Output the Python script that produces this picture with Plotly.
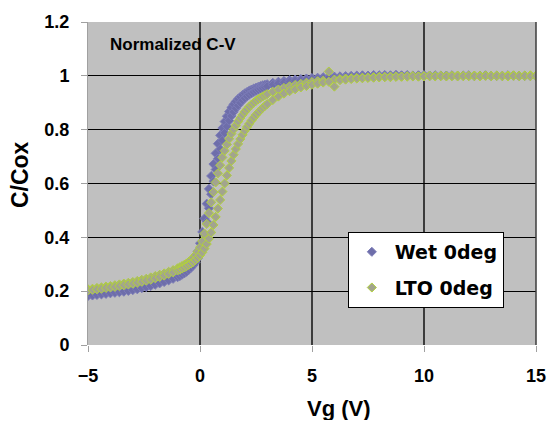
import plotly.graph_objects as go

# gate voltage sweep points (V)
vg = [
    -5.0, -4.8, -4.6, -4.4, -4.2, -4.0, -3.8, -3.6, -3.4, -3.2, -3.0,
    -2.8, -2.6, -2.4, -2.2, -2.0, -1.8, -1.6, -1.4, -1.2, -1.0,
    -0.9, -0.8, -0.7, -0.6, -0.5, -0.4, -0.3, -0.2, -0.1, 0.0,
    0.1, 0.2, 0.3, 0.4, 0.5, 0.6, 0.7, 0.8, 0.9, 1.0,
    1.1, 1.2, 1.3, 1.4, 1.5, 1.6, 1.7, 1.8, 1.9, 2.0,
    2.1, 2.2, 2.3, 2.4, 2.5, 2.6, 2.7, 2.8, 2.9, 3.0,
    3.25, 3.5, 3.75, 4.0, 4.25, 4.5, 4.75, 5.0,
    5.25, 5.5, 5.75, 6.0, 6.25, 6.5, 6.75, 7.0,
    7.25, 7.5, 7.75, 8.0, 8.25, 8.5, 8.75, 9.0,
    9.25, 9.5, 9.75, 10.0, 10.25, 10.5, 10.75, 11.0,
    11.25, 11.5, 11.75, 12.0, 12.25, 12.5, 12.75, 13.0,
    13.25, 13.5, 13.75, 14.0, 14.25, 14.5, 14.75, 15.0,
]

wet_sweep1 = [
    0.186, 0.188, 0.190, 0.192, 0.194, 0.196, 0.198, 0.200, 0.203, 0.206, 0.209,
    0.213, 0.217, 0.221, 0.226, 0.231, 0.236, 0.242, 0.248, 0.254, 0.261,
    0.266, 0.271, 0.277, 0.284, 0.292, 0.301, 0.312, 0.327, 0.348, 0.378,
    0.420, 0.470, 0.525, 0.580, 0.628, 0.672, 0.712, 0.748, 0.779, 0.806,
    0.830, 0.850, 0.867, 0.882, 0.894, 0.905, 0.914, 0.922, 0.929, 0.935,
    0.940, 0.945, 0.949, 0.953, 0.956, 0.959, 0.962, 0.965, 0.967, 0.969,
    0.974, 0.978, 0.981, 0.984, 0.986, 0.988, 0.990, 0.992,
    0.993, 0.995, 0.996, 0.997, 0.998, 0.999, 1.000, 1.001,
    1.002, 1.001, 1.003, 1.002, 1.003, 1.002, 1.004, 1.002,
    1.003, 1.001, 1.002, 1.003, 1.001, 1.002, 1.000, 1.001,
    1.002, 1.000, 1.001, 1.002, 1.000, 1.001, 1.002, 1.000,
    1.001, 1.000, 1.002, 1.001, 1.000, 1.001, 1.000, 1.001,
]
wet_sweep2 = [
    0.182, 0.184, 0.186, 0.188, 0.190, 0.192, 0.194, 0.196, 0.198, 0.201, 0.204,
    0.207, 0.211, 0.215, 0.219, 0.224, 0.229, 0.234, 0.240, 0.246, 0.252,
    0.256, 0.261, 0.266, 0.272, 0.279, 0.287, 0.296, 0.307, 0.322, 0.343,
    0.373, 0.412, 0.458, 0.508, 0.560, 0.608, 0.652, 0.692, 0.728, 0.760,
    0.788, 0.812, 0.833, 0.851, 0.866, 0.879, 0.890, 0.900, 0.909, 0.917,
    0.924, 0.930, 0.935, 0.940, 0.944, 0.948, 0.952, 0.955, 0.958, 0.961,
    0.967, 0.972, 0.976, 0.979, 0.982, 0.985, 0.987, 0.989,
    0.990, 0.992, 0.993, 0.994, 0.995, 0.996, 0.997, 0.998,
    0.998, 0.999, 0.998, 1.000, 0.999, 1.000, 0.999, 1.001,
    1.000, 0.999, 1.001, 1.000, 0.999, 1.000, 1.001, 0.999,
    1.000, 0.999, 1.001, 1.000, 0.999, 1.000, 1.001, 0.999,
    1.000, 0.999, 1.000, 1.001, 0.999, 1.000, 0.999, 1.000,
]
lto_sweep1 = [
    0.207, 0.209, 0.212, 0.214, 0.217, 0.219, 0.222, 0.225, 0.228, 0.231, 0.234,
    0.238, 0.242, 0.246, 0.251, 0.256, 0.261, 0.266, 0.272, 0.278, 0.285,
    0.289, 0.293, 0.298, 0.303, 0.309, 0.316, 0.324, 0.334, 0.347, 0.363,
    0.385, 0.414, 0.450, 0.490, 0.530, 0.568, 0.604, 0.638, 0.668, 0.697,
    0.722, 0.745, 0.766, 0.785, 0.801, 0.816, 0.830, 0.843, 0.855, 0.866,
    0.876, 0.885, 0.893, 0.900, 0.907, 0.913, 0.918, 0.923, 0.928, 0.932,
    0.941, 0.949, 0.955, 0.961, 0.966, 0.970, 0.974, 0.977,
    0.980, 0.982, 1.016, 0.986, 0.988, 0.990, 0.991, 0.992,
    0.993, 0.994, 0.995, 0.996, 0.996, 0.997, 0.998, 0.997,
    0.998, 0.999, 0.998, 0.999, 1.000, 0.999, 1.000, 0.999,
    1.000, 1.001, 1.000, 0.999, 1.001, 1.000, 1.001, 1.000,
    1.001, 1.000, 1.001, 1.002, 1.000, 1.001, 1.002, 1.001,
]
lto_sweep2 = [
    0.203, 0.205, 0.207, 0.209, 0.212, 0.214, 0.216, 0.219, 0.222, 0.225, 0.228,
    0.231, 0.235, 0.239, 0.243, 0.248, 0.253, 0.258, 0.264, 0.270, 0.277,
    0.280, 0.284, 0.288, 0.293, 0.298, 0.303, 0.309, 0.316, 0.324, 0.333,
    0.344, 0.358, 0.375, 0.395, 0.418, 0.446, 0.476, 0.507, 0.539, 0.570,
    0.600, 0.630, 0.658, 0.684, 0.707, 0.728, 0.747, 0.765, 0.781, 0.796,
    0.810, 0.822, 0.834, 0.845, 0.855, 0.864, 0.873, 0.881, 0.888, 0.895,
    0.910, 0.923, 0.934, 0.943, 0.950, 0.957, 0.962, 0.967,
    0.971, 0.975, 0.978, 0.960, 0.984, 0.986, 0.988, 0.990,
    0.991, 0.992, 0.993, 0.994, 0.995, 0.995, 0.996, 0.997,
    0.997, 0.998, 0.997, 0.998, 0.999, 0.998, 0.999, 0.998,
    0.999, 0.998, 0.999, 1.000, 0.999, 0.998, 1.000, 0.999,
    1.000, 0.999, 0.998, 1.000, 0.999, 1.000, 0.999, 1.000,
]

series = [
    ("Wet 0deg", [wet_sweep1, wet_sweep2], "#6E6EAA", "#7C7CB8"),
    ("LTO 0deg", [lto_sweep1, lto_sweep2], "#A2A48E", "#B2D23A"),
]

BOLD = dict(family="Liberation Sans, Arial", color="black", weight="bold")

fig = go.Figure()
for name, sweeps, fill, edge in series:
    for i, cv in enumerate(sweeps):
        assert len(cv) == len(vg)
        fig.add_trace(
            go.Scatter(
                x=vg,
                y=cv,
                mode="markers",
                name=name,
                legendgroup=name,
                showlegend=(i == 0),
                marker=dict(symbol="diamond", size=7, color=fill,
                            line=dict(color=edge, width=1)),
            )
        )

# the page body adds an 8px margin, so the figure is 540x412
fig.update_layout(
    width=540,
    height=412,
    margin=dict(l=80, r=12, t=14, b=75),
    paper_bgcolor="white",
    plot_bgcolor="#C0C0C0",
    showlegend=True,
    legend=dict(
        x=0.58, y=0.35, xanchor="left", yanchor="top",
        bgcolor="white", bordercolor="black", borderwidth=1,
        font=dict(family="DejaVu Sans", size=19, color="black", weight="bold"),
        tracegroupgap=8, itemwidth=36,
    ),
    annotations=[
        dict(text="Normalized C-V", xref="paper", yref="paper", x=0.045, y=0.929,
             xanchor="left", yanchor="middle", showarrow=False,
             font=dict(BOLD, size=17)),
        dict(text="Vg (V)", xref="paper", yref="paper", x=0.56, y=-0.198,
             xanchor="center", yanchor="middle", showarrow=False,
             font=dict(BOLD, size=22)),
        dict(text="C/Cox", xref="paper", yref="paper", x=-0.152, y=0.529,
             xanchor="center", yanchor="middle", showarrow=False, textangle=-90,
             font=dict(BOLD, size=23)),
    ],
    # right-hand frame line of the plot area
    shapes=[
        dict(type="line", xref="paper", yref="paper", x0=1, x1=1, y0=0, y1=1,
             line=dict(color="#3C3C3C", width=1.5), layer="above"),
    ],
)
fig.update_xaxes(
    range=[-5, 15], dtick=5, tick0=0,
    showgrid=True, gridcolor="#3C3C3C", gridwidth=1.5,
    zeroline=False, showline=False,
    ticks="outside", ticklen=6, tickcolor="#A0A0A0",
    tickfont=dict(BOLD, size=18), ticklabelstandoff=8,
    ticklabeloverflow="allow", automargin=False,
)
fig.update_yaxes(
    range=[0, 1.2], dtick=0.2, tick0=0,
    showgrid=True, gridcolor="black", gridwidth=1,
    zeroline=False, showline=True, linecolor="#A0A0A0", linewidth=1,
    ticks="outside", ticklen=6, tickcolor="#A0A0A0",
    tickfont=dict(BOLD, size=18), ticklabelstandoff=8, automargin=False,
)

fig.write_html("out.html")
